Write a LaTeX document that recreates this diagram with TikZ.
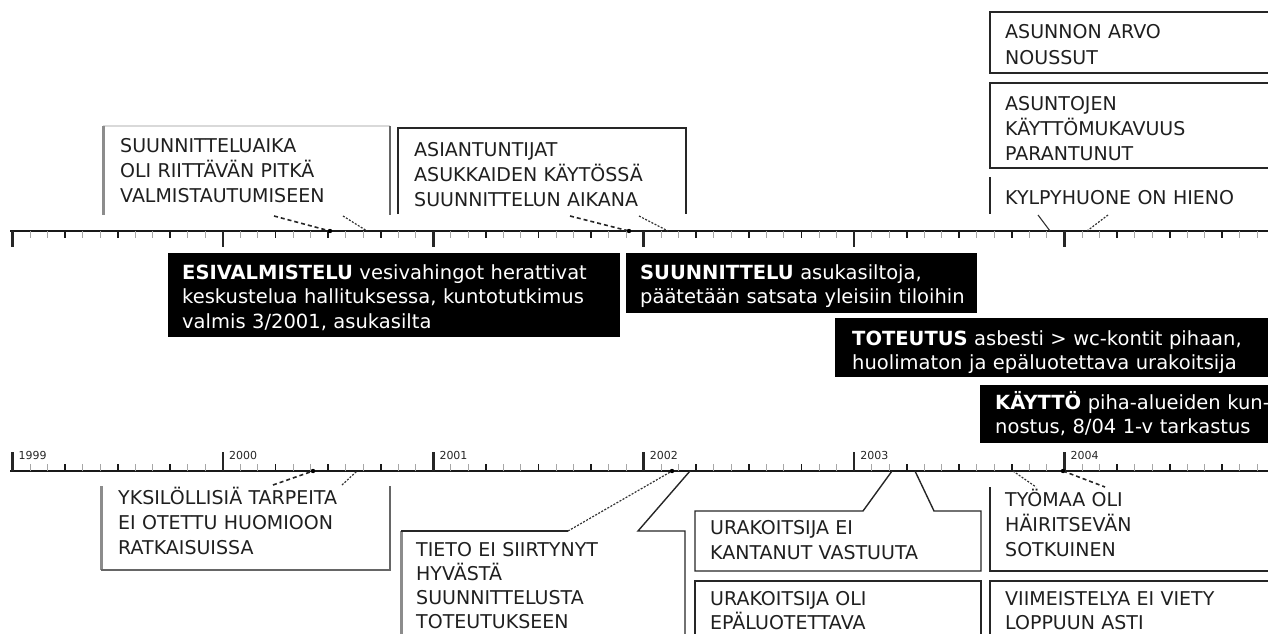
\documentclass[tikz,border=0pt]{standalone}
\usepackage{fontspec}
\setmainfont{DejaVu Sans}
\begin{document}
\begin{tikzpicture}[x=1pt,y=-1pt,
  note/.style={anchor=base west, inner sep=0pt, text width=330pt, align=left,
    font=\fontsize{19}{25}\selectfont, text=black!88},
  tightnote/.style={note, font=\fontsize{19}{24}\selectfont},
  phase/.style={anchor=base west, inner sep=0pt, text width=440pt, align=left,
    font=\fontsize{19.5}{24.5}\selectfont, text=white},
  phasebox/.style={fill=black},
  frame/.style={draw=black!85, line width=1.4pt},
  softside/.style={draw=black!45, line width=3pt},
  grayside/.style={draw=black!60, line width=1.8pt},
  faint/.style={draw=black!15, line width=1.2pt},
  axisline/.style={draw=black!90, line width=2pt},
  majortick/.style={draw=black!85, line width=2.6pt},
  quartertick/.style={draw=black!90, line width=1.8pt},
  monthtick/.style={draw=black!35, line width=1pt},
  longdash/.style={draw=black!85, line width=1.6pt, dash pattern=on 4pt off 3pt},
  finedash/.style={draw=black!80, line width=1.2pt, dash pattern=on 2pt off 1.5pt},
  thinline/.style={draw=black!80, line width=1.1pt},
  yearlabel/.style={anchor=base west, inner sep=0pt, font=\fontsize{11}{11}\selectfont, text=black!85},
  endpoint/.style={circle, fill=black, inner sep=0pt, minimum size=4.4pt}
]
\useasboundingbox (0,0) rectangle (1268,634);

% ---------- the two time axes ----------
\draw[axisline] (10,231) -- (1270,231);
\draw[axisline] (10,471) -- (1270,471);
\foreach \i/\yr in {0/1999,1/2000,2/2001,3/2002,4/2003,5/2004} {
  \pgfmathsetmacro\xo{12.5+210.4*\i}
  \draw[majortick] (\xo,231) -- ++(0,16);
  \draw[majortick] (\xo,471) -- ++(0,-19);
  \node[yearlabel] (yr\yr) at (\xo+6,459) {\yr};
  \foreach \m in {1,...,11} {
    \pgfmathsetmacro\xm{\xo+17.53*\m}
    \pgfmathtruncatemacro\q{mod(\m,3)}
    \ifnum\q=0
      \draw[quartertick] (\xm,231) -- ++(0,7);
      \draw[quartertick] (\xm,471) -- ++(0,-7);
    \else
      \draw[monthtick] (\xm,231) -- ++(0,7);
      \draw[monthtick] (\xm,471) -- ++(0,-7);
    \fi
  }
}

% ---------- phase boxes between the axes ----------
\fill[phasebox] (168,253) rectangle (620,337);
\node[phase] (esi) at (182,279) {\textbf{ESIVALMISTELU} vesivahingot herattivat\\keskustelua hallituksessa, kuntotutkimus\\valmis 3/2001, asukasilta};

\fill[phasebox] (626,253) rectangle (977,313);
\node[phase] (suun) at (640,279) {\textbf{SUUNNITTELU} asukasiltoja,\\päätetään satsata yleisiin tiloihin};

\fill[phasebox] (835,318) rectangle (1270,377);
\node[phase] (tot) at (852,345) {\textbf{TOTEUTUS} asbesti > wc-kontit pihaan,\\huolimaton ja epäluotettava urakoitsija};

\fill[phasebox] (980,385) rectangle (1270,443);
\node[phase] (kay) at (995,409) {\textbf{KÄYTTÖ} piha-alueiden kun-\\nostus, 8/04 1-v tarkastus};

% ---------- notes above the upper axis ----------
\draw[faint] (103,126) -- (390,126);
\draw[softside] (103,126) -- (103,215);
\draw[grayside] (390,126) -- (390,215);
\node[note] (n1) at (120,152) {SUUNNITTELUAIKA\\OLI RIITTÄVÄN PITKÄ\\VALMISTAUTUMISEEN};
\coordinate (n1a) at (274,216);
\coordinate (n1b) at (343,216);
\coordinate (ax1) at (330,231);
\coordinate (ax2) at (367,231);
\draw[longdash] (n1a) -- (ax1);
\node[endpoint] (d1) at (ax1) {};
\draw[finedash] (n1b) -- (ax2);

\draw[frame] (398,214) -- (398,128) -- (686,128) -- (686,214);
\node[note] (n2) at (414,156) {ASIANTUNTIJAT\\ASUKKAIDEN KÄYTÖSSÄ\\SUUNNITTELUN AIKANA};
\coordinate (n2a) at (570,216);
\coordinate (n2b) at (639,216);
\coordinate (ax3) at (629,231);
\coordinate (ax4) at (668,231);
\draw[longdash] (n2a) -- (ax3);
\node[endpoint] (d2) at (ax3) {};
\draw[finedash] (n2b) -- (ax4);

\draw[frame] (1270,12) -- (990,12) -- (990,73) -- (1270,73);
\node[note] (n3) at (1005,39) {ASUNNON ARVO\\NOUSSUT};
\draw[frame] (1270,83) -- (990,83) -- (990,168) -- (1270,168);
\node[note] (n4) at (1005,110) {ASUNTOJEN\\KÄYTTÖMUKAVUUS\\PARANTUNUT};
\draw[frame] (990,177) -- (990,214);
\node[note] (n5) at (1005,204) {KYLPYHUONE ON HIENO};
\coordinate (n5a) at (1038,215);
\coordinate (n5b) at (1108,215);
\coordinate (ax5) at (1050,231);
\coordinate (ax6) at (1087,231);
\draw[thinline] (n5a) -- (ax5);
\draw[finedash] (n5b) -- (ax6);

% ---------- notes below the lower axis ----------
\draw[softside] (101,486) -- (101,570);
\draw[grayside] (101,570) -- (390,570) -- (390,486);
\node[note] (n6) at (118,504) {YKSILÖLLISIÄ TARPEITA\\EI OTETTU HUOMIOON\\RATKAISUISSA};
\coordinate (n6a) at (273,485);
\coordinate (n6b) at (342,485);
\coordinate (bx1) at (313,471);
\coordinate (bx2) at (357,471);
\draw[longdash] (n6a) -- (bx1);
\node[endpoint] (d3) at (bx1) {};
\draw[finedash] (n6b) -- (bx2);

\draw[softside] (401,531) -- (401,640);
\coordinate (n7a) at (568,531);
\coordinate (n7b) at (638,531);
\coordinate (bx3) at (672,471);
\coordinate (bx4) at (690,471);
\draw[frame] (401,531) -- (n7a);
\draw[finedash] (n7a) -- (bx3);
\node[endpoint] (d4) at (bx3) {};
\draw[frame] (bx4) -- (n7b) -- (685,531) -- (685,640);
\node[tightnote] (n7) at (416,556) {TIETO EI SIIRTYNYT\\HYVÄSTÄ\\SUUNNITTELUSTA\\TOTEUTUKSEEN};

\coordinate (bx5) at (892,471);
\coordinate (bx6) at (915,471);
\draw[frame] (bx5) -- (863,511) -- (695,511) -- (695,571) -- (981,571) -- (981,511) -- (934,511) -- (bx6);
\node[note] (n8) at (710,534) {URAKOITSIJA EI\\KANTANUT VASTUUTA};
\draw[frame] (695,640) -- (695,581) -- (981,581) -- (981,640);
\node[tightnote] (n9) at (710,605) {URAKOITSIJA OLI\\EPÄLUOTETTAVA};

\draw[frame] (990,487) -- (990,571) -- (1270,571);
\node[note] (n10) at (1005,506) {TYÖMAA OLI\\HÄIRITSEVÄN\\SOTKUINEN};
\coordinate (n10a) at (1036,487);
\coordinate (n10b) at (1105,487);
\coordinate (bx7) at (1013,471);
\coordinate (bx8) at (1063,471);
\draw[finedash] (bx7) -- (n10a);
\draw[longdash] (bx8) -- (n10b);
\node[endpoint] (d5) at (bx8) {};

\draw[frame] (990,640) -- (990,581) -- (1270,581);
\node[tightnote] (n11) at (1005,605) {VIIMEISTELYA EI VIETY\\LOPPUUN ASTI};
\end{tikzpicture}
\end{document}
